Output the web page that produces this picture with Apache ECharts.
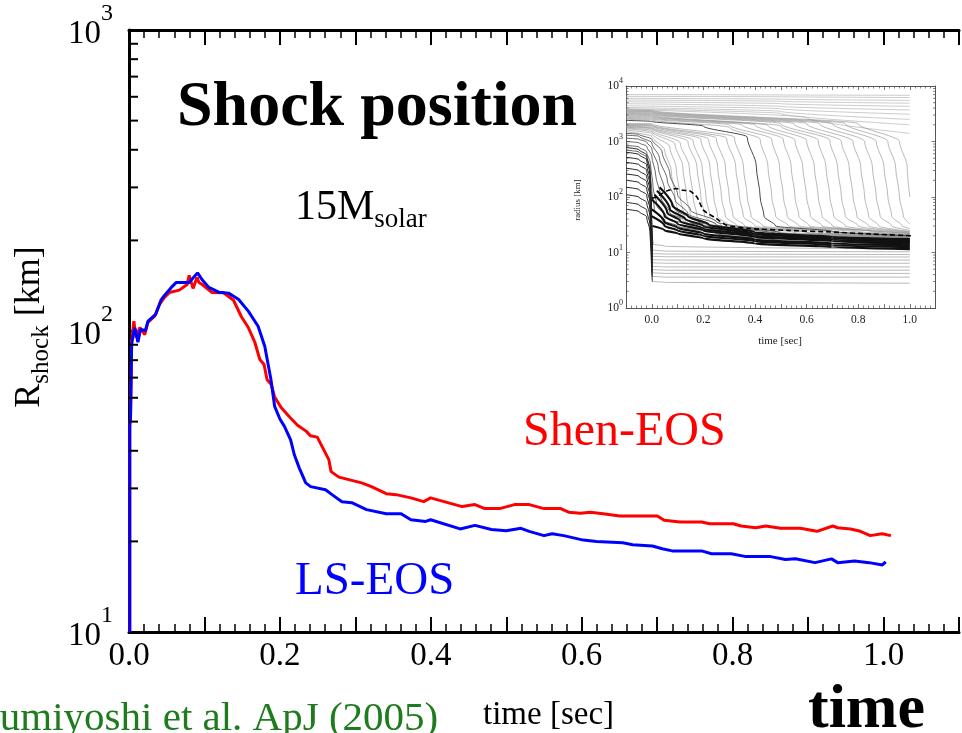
<!DOCTYPE html>
<html><head><meta charset="utf-8">
<script src="https://cdn.jsdelivr.net/npm/echarts@6/dist/echarts.min.js"></script>
<style>html,body{margin:0;padding:0;background:#fff}#c{width:962px;height:733px}</style>
</head><body><div id="c"></div><script>
const FONT = "'Liberation Serif','Times New Roman',serif";

// ---------- main panel data: [time (s), R_shock (km)] ----------
const shenEOS = [
[0.001,10],[0.001,48],[0.002,52],[0.0035,92.5],[0.0065,107.8],[0.0091,95.1],[0.0144,102.7],[0.0209,97.3],[0.0248,106.7],[0.034,112],[0.0405,122.5],[0.047,129.3],[0.0536,134.3],[0.0666,136.7],[0.0771,142.8],[0.0797,153],[0.0849,138.5],[0.0901,150.7],[0.0927,145],[0.0967,143],[0.1097,134.3],[0.1254,134],[0.1385,126.5],[0.149,111.5],[0.1581,102.7],[0.1668,91.6],[0.1734,80.4],[0.179,77.4],[0.1829,69.0],[0.1885,66.4],[0.1929,60.5],[0.2016,55.7],[0.2125,51.9],[0.2234,48.6],[0.2351,46.4],[0.2404,44.9],[0.2495,44.4],[0.2648,37.4],[0.2678,34.1],[0.2782,32.7],[0.3083,31.3],[0.3213,30.4],[0.3409,28.8],[0.354,28.6],[0.3736,27.9],[0.3906,27.1],[0.3997,27.9],[0.4415,26.1],[0.4585,26.5],[0.4716,25.7],[0.4912,25.7],[0.5108,26.5],[0.5304,26.5],[0.55,25.7],[0.5722,25.7],[0.5826,25.0],[0.5983,24.8],[0.6114,25.0],[0.6283,24.7],[0.6505,24.3],[0.7001,24.3],[0.7093,23.5],[0.7302,23.2],[0.7589,23.2],[0.7694,22.9],[0.8008,22.9],[0.8112,22.5],[0.8308,22.2],[0.8439,22.5],[0.8635,22.1],[0.8896,22.1],[0.9118,21.6],[0.9327,22.5],[0.9392,22.2],[0.9562,22.0],[0.9693,21.6],[0.9824,20.9],[0.998,21.2],[1.0098,20.9]
];
const lsEOS = [
[0.001,10],[0.001,49],[0.002,51],[0.0035,90.2],[0.0052,96.1],[0.0078,102.5],[0.0118,91.8],[0.0153,101.2],[0.0218,100.4],[0.0252,107.8],[0.0353,113.5],[0.0427,127.2],[0.047,131.3],[0.0558,139.3],[0.0627,145],[0.0797,145],[0.0908,156],[0.0967,148.4],[0.1058,139.6],[0.1189,134.6],[0.1319,133.6],[0.145,127.5],[0.1581,116.4],[0.1711,103.7],[0.1799,89],[0.1881,69],[0.193,56.2],[0.2,51],[0.206,48.2],[0.2142,43.5],[0.2191,38.8],[0.2256,35.1],[0.2342,31.3],[0.2408,30.4],[0.2604,29.7],[0.2691,28.6],[0.2822,27.1],[0.2952,26.9],[0.3148,25.5],[0.3409,24.7],[0.3606,24.7],[0.3736,23.6],[0.3932,23.3],[0.3997,23.6],[0.4389,22.0],[0.4585,22.6],[0.4803,21.9],[0.4999,21.7],[0.5195,22.1],[0.5304,21.6],[0.55,20.9],[0.5608,21.2],[0.5761,20.9],[0.6022,20.2],[0.6196,20.0],[0.6545,19.8],[0.6675,19.5],[0.6937,19.3],[0.7067,18.9],[0.7198,18.6],[0.7589,18.6],[0.772,18.2],[0.7981,18.2],[0.8177,17.8],[0.8504,17.8],[0.87,17.4],[0.8831,17.5],[0.9092,17.0],[0.931,17.5],[0.9393,17.0],[0.9615,17.2],[0.981,17.0],[0.9984,16.7],[1.0029,17.1]
];
const mainMinorLogTicks = [20,30,40,50,60,70,80,90,200,300,400,500,600,700,800,900];
const mainYExponents = {10:'1',100:'2',1000:'3'};

// ---------- inset data: mass-shell trajectories [time (s), radius (km)] ----------
const insetCoreShells = [
[[-0.1,60],[-0.05,55],[-0.02,44],[-0.007,24],[-0.002,8],[0.002,3],[0.05,2.9],[1.0,2.8]],
[[-0.1,80],[-0.05,73],[-0.02,58],[-0.007,32],[-0.002,10],[0.002,3.7],[0.05,3.6],[1.0,3.6]],
[[-0.1,110],[-0.05,100],[-0.02,80],[-0.007,45],[-0.002,13],[0.002,4.3],[0.05,4.2],[1.0,4.2]],
[[-0.1,150],[-0.05,137],[-0.02,110],[-0.007,60],[-0.002,17],[0.002,4.9],[0.05,4.8],[1.0,4.8]],
[[-0.1,200],[-0.05,183],[-0.02,145],[-0.007,80],[-0.002,22],[0.002,5.6],[0.05,5.5],[1.0,5.5]],
[[-0.1,260],[-0.05,238],[-0.02,190],[-0.007,105],[-0.002,28],[0.002,6.5],[0.05,6.4],[1.0,6.4]],
[[-0.1,330],[-0.05,300],[-0.02,240],[-0.007,135],[-0.002,36],[0.002,7.4],[0.05,7.3],[1.0,7.3]],
[[-0.1,420],[-0.05,385],[-0.02,305],[-0.007,170],[-0.002,45],[0.002,8.5],[0.05,8.4],[1.0,8.3]],
[[-0.1,520],[-0.05,475],[-0.02,380],[-0.007,210],[-0.002,55],[0.003,9.5],[0.05,9.4],[1.0,9.2]],
[[-0.1,640],[-0.05,585],[-0.02,465],[-0.007,260],[-0.002,70],[0.003,11],[0.05,10.6],[1.0,10.3]],
[[-0.1,780],[-0.05,715],[-0.02,570],[-0.007,320],[-0.001,60],[0.004,14],[0.05,13],[1.0,11.5]]
];
const insetBandShells = [
[[-0.1,700],[-0.05,650],[-0.02,520],[-0.006,280],[0.0,130],[0.01,60],[0.04,38],[0.1,30],[0.25,22],[0.5,16],[1.0,13]],
[[-0.1,850],[-0.05,800],[-0.02,650],[-0.005,400],[0.005,150],[0.02,70],[0.06,42],[0.15,30],[0.35,21],[0.7,16],[1.0,14]],
[[-0.1,1000],[-0.05,950],[-0.02,820],[0.0,550],[0.015,250],[0.035,100],[0.07,52],[0.15,35],[0.35,23],[0.7,17],[1.0,15]],
[[-0.1,1150],[-0.05,1100],[-0.02,980],[0.0,750],[0.025,350],[0.05,130],[0.09,60],[0.18,36],[0.4,23],[0.7,18],[1.0,16]],
[[-0.1,1300],[-0.05,1250],[0.0,950],[0.03,500],[0.06,200],[0.09,90],[0.14,50],[0.25,32],[0.5,21],[1.0,16.5]],
[[-0.1,1400],[-0.05,1350],[0.0,1100],[0.04,650],[0.07,260],[0.1,110],[0.15,58],[0.25,36],[0.5,22],[1.0,17]]
];
const insetFallingShells = [
[[-0.1,1500],[0.0,1250],[0.05,700],[0.075,300],[0.09,100],[0.105,45],[0.15,30],[0.3,23],[1.0,17]],
[[-0.1,1600],[0.0,1400],[0.07,800],[0.095,320],[0.11,100],[0.125,45],[0.17,30],[0.35,23],[1.0,17.5]],
[[-0.1,1700],[0.0,1500],[0.09,900],[0.12,350],[0.135,100],[0.15,45],[0.2,30],[0.4,23],[1.0,18]],
[[-0.1,1750],[0.0,1600],[0.11,950],[0.145,350],[0.16,100],[0.175,45],[0.22,30],[0.45,23],[1.0,18]],
[[-0.1,1800],[0.0,1700],[0.14,1000],[0.175,350],[0.19,100],[0.205,45],[0.25,30],[0.5,23],[1.0,18.5]],
[[-0.1,1850],[0.0,1750],[0.16,1050],[0.195,350],[0.21,100],[0.225,45],[0.27,30],[0.5,23],[1.0,18.5]],
[[-0.1,1900],[0.0,1800],[0.19,1100],[0.225,360],[0.24,100],[0.255,45],[0.3,30],[0.55,23],[1.0,19]],
[[-0.1,1950],[0.0,1900],[0.22,1100],[0.255,360],[0.27,100],[0.285,45],[0.33,30],[0.6,23],[1.0,19]],
[[-0.1,2000],[0.0,1950],[0.25,1150],[0.285,360],[0.3,100],[0.315,45],[0.36,30],[0.6,23],[1.0,19.5]],
[[-0.1,2050],[0.0,2000],[0.29,1150],[0.325,360],[0.34,100],[0.355,45],[0.4,30],[0.65,23],[1.0,19.5]],
[[-0.1,2100],[0.0,2100],[0.32,1200],[0.355,360],[0.37,100],[0.385,45],[0.43,30],[0.7,23],[1.0,20]],
[[-0.1,2500],[0.0,2450],[0.3,1800],[0.42,1100],[0.45,360],[0.465,100],[0.48,45],[0.53,30],[0.8,23],[1.0,20.5]],
[[-0.1,2600],[0.0,2550],[0.3,2000],[0.465,1100],[0.495,360],[0.51,100],[0.525,45],[0.57,30],[0.8,24],[1.0,21]],
[[-0.1,2700],[0.0,2650],[0.35,2000],[0.51,1100],[0.54,360],[0.555,100],[0.57,45],[0.61,30],[0.85,24],[1.0,21]],
[[-0.1,2800],[0.0,2750],[0.4,2000],[0.555,1050],[0.585,350],[0.6,100],[0.615,45],[0.66,30],[1.0,22]],
[[-0.1,2900],[0.0,2850],[0.45,1950],[0.6,1050],[0.63,350],[0.645,100],[0.66,45],[0.7,30],[1.0,22]],
[[-0.1,3000],[0.0,2950],[0.5,1900],[0.645,1050],[0.675,350],[0.69,100],[0.705,45],[0.75,30],[1.0,22.5]],
[[-0.1,3100],[0.0,3050],[0.5,2100],[0.69,1050],[0.72,350],[0.735,100],[0.75,45],[0.8,30],[1.0,23]],
[[-0.1,3200],[0.0,3150],[0.55,2100],[0.735,1000],[0.765,350],[0.78,100],[0.795,45],[0.84,30],[1.0,23.5]],
[[-0.1,3300],[0.0,3250],[0.6,2100],[0.78,1000],[0.81,350],[0.825,100],[0.84,45],[0.88,30],[1.0,24]],
[[-0.1,3400],[0.0,3350],[0.65,2100],[0.825,1000],[0.855,350],[0.87,100],[0.885,45],[0.93,30],[1.0,25]],
[[-0.1,3500],[0.0,3450],[0.7,2100],[0.87,1000],[0.9,350],[0.915,100],[0.93,45],[0.97,30],[1.0,27]],
[[-0.1,3600],[0.0,3550],[0.75,2100],[0.915,1000],[0.945,350],[0.96,100],[0.975,45],[1.0,33]],
[[-0.1,3700],[0.0,3650],[0.8,2100],[0.96,1000],[0.99,350],[1.0,100]]
];
const insetDarkShell = [[-0.1,2400],[0.0,2300],[0.2,1900],[0.37,1200],[0.405,360],[0.42,100],[0.435,45],[0.48,30],[0.7,24],[1.0,20]];
const insetOuterShells = [
[[-0.1,7000],[0.5,6900],[1.0,6800]],
[[-0.1,6500],[0.5,6400],[1.0,6200]],
[[-0.1,6000],[0.5,5800],[1.0,5500]],
[[-0.1,5600],[0.5,5300],[1.0,4900]],
[[-0.1,5200],[0.5,4800],[1.0,4300]],
[[-0.1,4800],[0.5,4300],[1.0,3700]],
[[-0.1,4400],[0.5,3900],[1.0,3100]],
[[-0.1,4100],[0.5,3500],[1.0,2500]],
[[-0.1,3900],[0.5,3200],[1.0,2000]],
[[-0.1,3800],[0.6,2700],[1.0,1400]]
];
const insetBandCore = [
[[0.003,30],[0.05,25],[0.1,22],[0.2,18],[0.4,14.5],[0.7,12.5],[1.0,11.5]],
[[0.0,45],[0.05,30],[0.1,25],[0.2,20],[0.4,16],[0.7,13.5],[1.0,12.5]],
[[0.0,60],[0.05,35],[0.1,28],[0.2,22],[0.4,17],[0.7,14.5],[1.0,13.5]],
[[0.0,90],[0.05,45],[0.1,33],[0.2,25],[0.4,19],[0.7,16],[1.0,14.5]],
[[0.01,110],[0.06,52],[0.11,37],[0.2,27],[0.4,20],[0.7,17],[1.0,15.5]],
[[0.02,130],[0.07,60],[0.13,40],[0.2,30],[0.4,21.5],[0.7,18],[1.0,16.5]],
[[0.03,150],[0.08,70],[0.14,45],[0.22,32],[0.4,23],[0.7,19],[1.0,17.5]]
];
const insetShock = [[0.0,95],[0.02,100],[0.04,116],[0.065,132],[0.095,142],[0.12,132],[0.148,128],[0.175,100],[0.2,58],[0.25,41],[0.29,31],[0.38,27],[0.53,25],[0.69,23.5],[0.85,21.5],[1.01,20]];
const insetMinorLogTicks = [2,3,4,5,6,7,8,9,20,30,40,50,60,70,80,90,200,300,400,500,600,700,800,900,2000,3000,4000,5000,6000,7000,8000,9000];
const insetYExponents = {1:'0',10:'1',100:'2',1000:'3',10000:'4'};

// ---------- helpers ----------
function evenTenthLabel(v){ const k=Math.round(v*10); return (k>=0 && k<=10 && k%2===0) ? (k/10).toFixed(1) : ''; }
function logTickSeries(xi, yi, xVal, values, len, dir, color, width){
  return {type:'custom', xAxisIndex:xi, yAxisIndex:yi, silent:true, clip:false, z:5,
    data: values.map(v=>[xVal,v]), encode:{x:0,y:1},
    renderItem:(params, api)=>{ const p=api.coord([api.value(0), api.value(1)]);
      return {type:'line', shape:{x1:p[0], y1:p[1], x2:p[0]+dir*len, y2:p[1]}, style:{stroke:color, lineWidth:width}}; }
  };
}
function insetLine(data, color, width, extra){
  return Object.assign({type:'line', xAxisIndex:2, yAxisIndex:1, data:data, showSymbol:false, silent:true,
    smooth:0.3, smoothMonotone:'y', lineStyle:{color:color, width:width}, z:3}, extra||{});
}

const chart = echarts.init(document.getElementById('c'), null, {renderer:'canvas'});
const mainAxisLine = {onZero:false, lineStyle:{color:'#000', width:3}};
const insetAxisLine = {onZero:false, lineStyle:{color:'#555', width:1}};

const series = [
  {type:'line', xAxisIndex:0, yAxisIndex:0, data:shenEOS, showSymbol:false, lineStyle:{color:'#ff0000', width:3}, z:4},
  {type:'line', xAxisIndex:0, yAxisIndex:0, data:lsEOS, showSymbol:false, lineStyle:{color:'#0000ff', width:3}, z:4},
  logTickSeries(0,0,0,mainMinorLogTicks,9,1,'#000',2),
  logTickSeries(2,1,-0.1,insetMinorLogTicks,2.5,1,'#555',0.8),
  logTickSeries(2,1,1.1,insetMinorLogTicks,2.5,-1,'#555',0.8)
];
insetOuterShells.forEach(d=>series.push(insetLine(d,'#a8a8a8',0.6)));
insetFallingShells.forEach(d=>series.push(insetLine(d,'#8c8c8c',0.6)));
insetCoreShells.forEach(d=>series.push(insetLine(d.filter(p=>p[0]>=0.002),'#8a8a8a',0.6)));
insetBandShells.forEach(d=>series.push(insetLine(d,'#444',0.8)));
insetCoreShells.forEach(d=>series.push(insetLine(d.filter(p=>p[0]<=0.004),'#222',1.0)));
series.push(insetLine(insetDarkShell,'#333',0.9));
insetBandCore.forEach(d=>series.push(insetLine(d,'#111',2.2)));
series.push(insetLine(insetShock,'#000',1.6,{smooth:0.2, smoothMonotone:null, lineStyle:{color:'#000', width:1.6, type:[5,3]}, z:6}));

chart.setOption({
  animation:false,
  backgroundColor:'#fff',
  grid:[
    {left:129, top:30, width:853.6, height:602},
    {left:626, top:86, width:309.6, height:222}
  ],
  xAxis:[
    {type:'value', gridIndex:0, position:'bottom', min:0, max:1.1, interval:0.1,
     axisLine:mainAxisLine, splitLine:{show:false},
     axisTick:{inside:true, length:15, lineStyle:{color:'#000', width:2}},
     minorTick:{show:true, splitNumber:5, length:8, lineStyle:{color:'#000', width:1.5}},
     axisLabel:{formatter:evenTenthLabel, fontFamily:FONT, fontSize:33, color:'#000', margin:8}},
    {type:'value', gridIndex:0, position:'top', min:0, max:1.1, interval:0.1,
     axisLine:mainAxisLine, splitLine:{show:false},
     axisTick:{inside:true, length:15, lineStyle:{color:'#000', width:2}},
     minorTick:{show:true, splitNumber:5, length:8, lineStyle:{color:'#000', width:1.5}},
     axisLabel:{show:false}},
    {type:'value', gridIndex:1, position:'bottom', min:-0.1, max:1.1, interval:0.1,
     axisLine:insetAxisLine, splitLine:{show:false},
     axisTick:{inside:true, length:4, lineStyle:{color:'#555', width:0.8}},
     minorTick:{show:true, splitNumber:5, length:2.5, lineStyle:{color:'#555', width:0.7}},
     axisLabel:{formatter:evenTenthLabel, fontFamily:FONT, fontSize:11.5, color:'#222', margin:6}},
    {type:'value', gridIndex:1, position:'top', min:-0.1, max:1.1, interval:0.1,
     axisLine:insetAxisLine, splitLine:{show:false},
     axisTick:{inside:true, length:4, lineStyle:{color:'#555', width:0.8}},
     minorTick:{show:true, splitNumber:5, length:2.5, lineStyle:{color:'#555', width:0.7}},
     axisLabel:{show:false}}
  ],
  yAxis:[
    {type:'log', logBase:10, gridIndex:0, min:10, max:1000, position:'left',
     axisLine:mainAxisLine, splitLine:{show:false},
     axisTick:{inside:true, length:14, lineStyle:{color:'#000', width:2}},
     axisLabel:{margin:16, padding:[8,0,0,0], formatter:function(v){ const k=Math.round(v); return '{z| }{n|10}{e|'+(mainYExponents[k]||'')+'}'; },
       rich:{
         n:{fontFamily:FONT, fontSize:33, verticalAlign:'middle', color:'#000'},
         e:{fontFamily:FONT, fontSize:24, verticalAlign:'top', color:'#000'},
         z:{fontSize:1, lineHeight:64}
       }}},
    {type:'log', logBase:10, gridIndex:1, min:1, max:10000, position:'left',
     axisLine:insetAxisLine, splitLine:{show:false},
     axisTick:{inside:true, length:4, lineStyle:{color:'#555', width:0.8}},
     axisLabel:{margin:3, formatter:function(v){ const k=Math.round(v); return '{z| }{n|10}{e|'+(insetYExponents[k]||'')+'}'; },
       rich:{
         n:{fontFamily:FONT, fontSize:11.5, verticalAlign:'middle', color:'#222'},
         e:{fontFamily:FONT, fontSize:8, verticalAlign:'top', color:'#222'},
         z:{fontSize:1, lineHeight:18}
       }}},
    {type:'log', logBase:10, gridIndex:1, min:1, max:10000, position:'right',
     axisLine:insetAxisLine, splitLine:{show:false},
     axisTick:{inside:true, length:4, lineStyle:{color:'#555', width:0.8}},
     axisLabel:{show:false}}
  ],
  series:series,
  graphic:[
    {type:'text', x:177, y:108, style:{text:'Shock position', font:'bold 64px '+FONT, fill:'#000', align:'left', verticalAlign:'middle'}},
    {type:'text', x:295, y:187, style:{text:'{n|15M}{s|solar}', align:'left', verticalAlign:'top',
      rich:{n:{fontFamily:FONT, fontSize:42, verticalAlign:'top', fill:'#000'},
            s:{fontFamily:FONT, fontSize:27, lineHeight:46, verticalAlign:'bottom', fill:'#000'}}}},
    {type:'text', x:523, y:432, style:{text:'Shen-EOS', font:'48px '+FONT, fill:'#ff0000', align:'left', verticalAlign:'middle'}},
    {type:'text', x:295, y:582, style:{text:'LS-EOS', font:'47px '+FONT, fill:'#0000ff', align:'left', verticalAlign:'middle'}},
    {type:'text', x:12, y:327, rotation:Math.PI/2, style:{text:'{r|R}{s|shock}{r| [km]}', align:'center', verticalAlign:'top',
      rich:{r:{fontFamily:FONT, fontSize:36, verticalAlign:'top', fill:'#000'},
            s:{fontFamily:FONT, fontSize:25, lineHeight:42, verticalAlign:'bottom', fill:'#000'}}}},
    {type:'text', x:-23, y:719, style:{text:'Sumiyoshi et al. ApJ (2005)', font:'41px '+FONT, fill:'#1e7b1e', align:'left', verticalAlign:'middle'}},
    {type:'text', x:483, y:715, style:{text:'time [sec]', font:'33px '+FONT, fill:'#000', align:'left', verticalAlign:'middle'}},
    {type:'text', x:808, y:711, style:{text:'time', font:'bold 62px '+FONT, fill:'#000', align:'left', verticalAlign:'middle'}},
    {type:'text', x:780, y:341, style:{text:'time [sec]', font:'11px '+FONT, fill:'#222', align:'center', verticalAlign:'middle'}},
    {type:'text', x:578, y:200, rotation:Math.PI/2, style:{text:'radius [km]', font:'9px '+FONT, fill:'#222', align:'center', verticalAlign:'middle'}}
  ]
});
</script></body></html>
